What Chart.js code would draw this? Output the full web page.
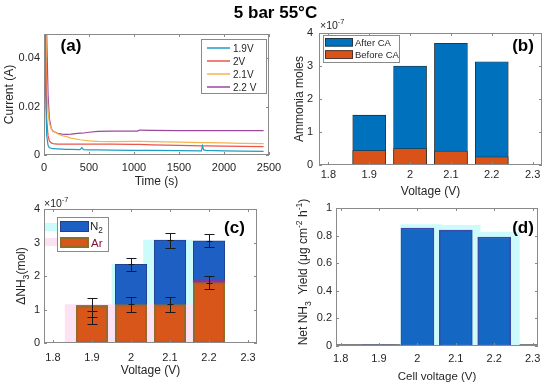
<!DOCTYPE html>
<html><head><meta charset="utf-8">
<script src="https://cdn.jsdelivr.net/npm/chart.js@4"></script>
<style>
html,body{margin:0;padding:0;background:#fff;width:550px;height:387px;overflow:hidden}
canvas{position:absolute;left:0;top:0}
</style></head><body>
<canvas id="ca" width="550" height="387"></canvas>
<canvas id="cb" width="550" height="387"></canvas>
<canvas id="cc" width="550" height="387"></canvas>
<canvas id="cd" width="550" height="387"></canvas>
<script>
// ---------------- DATA ----------------
const figTitle = '5 bar 55°C';
// (a) current vs time
const timeS = [5, 15, 30, 45, 60, 80, 100, 150, 200, 250, 300, 400, 420, 440, 500, 600, 750, 1000, 1040, 1060, 1200, 1500, 1750, 1760, 1775, 1800, 2000, 2200, 2440];
const cur19 = [0.08, 0.03, 0.008, 0.004, 0.003, 0.0028, 0.0026, 0.0025, 0.0024, 0.0023, 0.0023, 0.0022, 0.003, 0.0022, 0.0021, 0.0021, 0.002, 0.0019, 0.0019, 0.0019, 0.0019, 0.0018, 0.0017, 0.0038, 0.0021, 0.0019, 0.0017, 0.0016, 0.0015];
const cur20 = [0.09, 0.05, 0.015, 0.008, 0.0058, 0.005, 0.0047, 0.0045, 0.0045, 0.0045, 0.0045, 0.0045, 0.0045, 0.0045, 0.0045, 0.0045, 0.0045, 0.0044, 0.0044, 0.0044, 0.0042, 0.004, 0.0038, 0.0038, 0.0038, 0.0038, 0.0037, 0.0036, 0.0035];
const cur21 = [0.1, 0.07, 0.03, 0.018, 0.013, 0.011, 0.01, 0.0088, 0.008, 0.0076, 0.007, 0.0063, 0.0062, 0.0061, 0.0058, 0.0056, 0.0055, 0.0056, 0.0056, 0.0056, 0.0055, 0.0053, 0.0051, 0.0051, 0.0051, 0.0051, 0.005, 0.0048, 0.0047];
const cur22 = [0.1, 0.09, 0.05, 0.025, 0.015, 0.011, 0.0098, 0.009, 0.0086, 0.0085, 0.0086, 0.009, 0.009, 0.0091, 0.0094, 0.0098, 0.0099, 0.0099, 0.0099, 0.0103, 0.0102, 0.0101, 0.0101, 0.0101, 0.0101, 0.0101, 0.0101, 0.0101, 0.0101];
const seriesA = ['1.9V', '2V', '2.1V', '2.2 V'];
const aXTicks = [0, 500, 1000, 1500, 2000, 2500];
const aYTicks = [0, 0.02, 0.04];
// shared voltages
const voltages = [1.9, 2.0, 2.1, 2.2];
const vTicks = [1.8, 1.9, 2, 2.1, 2.2, 2.3];
// (b) ammonia moles (x1e-7)
const seriesB = ['After CA', 'Before CA'];
const afterCA = [1.51, 3.0, 3.69, 3.13];
const beforeCA = [0.44, 0.5, 0.42, 0.25];
const molTicks = [0, 1, 2, 3, 4];
// (c) delta NH3 (x1e-7)
const n2Vals = [1.12, 2.35, 3.07, 3.05];
const arVals = [1.12, 1.15, 1.15, 1.80];
const bandX = [2.2], bandLow = [1.80], bandHigh = [1.86];
const errX    = [1.9, 1.9, 2.0, 2.0, 2.1, 2.1, 2.2, 2.2];
const errMid  = [0.95, 0.77, 2.35, 1.15, 3.07, 1.15, 3.05, 1.80];
const errLow  = [0.77, 0.57, 2.15, 0.93, 2.85, 0.93, 2.87, 1.60];
const errHigh = [1.33, 0.95, 2.55, 1.36, 3.27, 1.36, 3.24, 2.01];
const ghostCX = [2.014, 2.095], ghostCY = [2.35, 3.07];
const ghostPX = [1.894, 2.014, 2.095], ghostPY = [1.15, 1.15, 1.15];
// (d) net NH3 yield
const yieldVals = [0.008, 0.855, 0.84, 0.79];
const ghostDX = [2.01, 2.11, 2.212], ghostDY = [0.88, 0.875, 0.825];
const yieldTicks = [0, 0.2, 0.4, 0.6, 0.8, 1];

// ---------------- STYLE / HELPERS ----------------
const FONT = "'Liberation Sans', Arial, Helvetica, sans-serif";
Chart.defaults.font.family = FONT;
Chart.defaults.font.size = 11;
Chart.defaults.color = '#262626';
Chart.defaults.animation = false;
const BOX = '#8a8a8a';
const fmt = v => String(Number(Number(v).toFixed(4)));
const pts = (xs, ys) => xs.map((x, i) => ({x: x, y: ys[i]}));

function drawRich(ctx, segs, x, y, size, opt) {
  opt = opt || {};
  const weight = opt.bold ? 'bold ' : '';
  const parts = segs.map(s => {
    const fs = s[1] ? size * 0.72 : size;
    ctx.font = weight + fs + 'px ' + FONT;
    return {t: s[0], m: s[1], fs: fs, w: ctx.measureText(s[0]).width};
  });
  const total = parts.reduce((a, p) => a + p.w, 0);
  let cx = opt.align === 'center' ? x - total / 2 : (opt.align === 'right' ? x - total : x);
  ctx.textAlign = 'left'; ctx.textBaseline = 'alphabetic';
  ctx.fillStyle = opt.color || '#262626';
  const base = y + size * 0.36;
  for (const p of parts) {
    ctx.font = weight + p.fs + 'px ' + FONT;
    const dy = p.m === 'sub' ? size * 0.32 : (p.m === 'sup' ? -size * 0.42 : 0);
    ctx.fillText(p.t, cx, base + dy);
    cx += p.w;
  }
}

const deco = {
  id: 'deco',
  beforeDatasetsDraw(chart, args, o) {
    if (!o.baseWidth) return;
    const ctx = chart.ctx, a = chart.chartArea;
    ctx.save();
    ctx.lineWidth = o.baseWidth; ctx.strokeStyle = '#808080';
    ctx.beginPath(); ctx.moveTo(a.left, a.bottom - 1); ctx.lineTo(a.right, a.bottom - 1); ctx.stroke();
    ctx.restore();
  },
  afterDatasetsDraw(chart, args, o) {
    if (!o.err) return;
    const ctx = chart.ctx, xs = chart.scales.x, ys = chart.scales.y, e = o.err;
    ctx.save(); ctx.strokeStyle = e.color; ctx.lineWidth = 1;
    for (let i = 0; i < e.x.length; i++) {
      const px = Math.round(xs.getPixelForValue(e.x[i])) + 0.5;
      const yl = Math.round(ys.getPixelForValue(e.low[i])) + 0.5;
      const yh = Math.round(ys.getPixelForValue(e.high[i])) + 0.5;
      const ym = Math.round(ys.getPixelForValue(e.mid[i])) + 0.5;
      ctx.beginPath();
      ctx.moveTo(px, yl); ctx.lineTo(px, yh);
      ctx.moveTo(px - e.cap, yl); ctx.lineTo(px + e.cap, yl);
      ctx.moveTo(px - e.cap, yh); ctx.lineTo(px + e.cap, yh);
      ctx.moveTo(px - e.cap * 0.6, ym); ctx.lineTo(px + e.cap * 0.6, ym);
      ctx.stroke();
    }
    ctx.restore();
  },
  afterDraw(chart, args, o) {
    const ctx = chart.ctx, a = chart.chartArea, xs = chart.scales.x, ys = chart.scales.y;
    ctx.save();
    ctx.strokeStyle = BOX; ctx.lineWidth = 1;
    ctx.strokeRect(a.left + 0.5, a.top + 0.5, a.right - a.left - 1, a.bottom - a.top - 1);
    ctx.beginPath();
    const tl = 3;
    xs.ticks.forEach(t => {
      const p = Math.round(xs.getPixelForValue(t.value)) + 0.5;
      ctx.moveTo(p, a.bottom); ctx.lineTo(p, a.bottom - tl);
      ctx.moveTo(p, a.top); ctx.lineTo(p, a.top + tl);
    });
    ys.ticks.forEach(t => {
      const p = Math.round(ys.getPixelForValue(t.value)) + 0.5;
      ctx.moveTo(a.left, p); ctx.lineTo(a.left + tl, p);
      ctx.moveTo(a.right, p); ctx.lineTo(a.right - tl, p);
    });
    ctx.stroke();
    if (o.legend) {
      const L = o.legend;
      (L.ghosts || []).forEach(g => { ctx.fillStyle = g.c; ctx.fillRect(g.r[0], g.r[1], g.r[2], g.r[3]); });
      ctx.fillStyle = '#fff'; ctx.strokeStyle = BOX; ctx.lineWidth = 1;
      const b = L.box;
      ctx.fillRect(b[0], b[1], b[2] - b[0], b[3] - b[1]);
      ctx.strokeRect(b[0] + 0.5, b[1] + 0.5, b[2] - b[0], b[3] - b[1]);
      L.items.forEach(it => {
        if (it.kind === 'line') {
          ctx.strokeStyle = it.c; ctx.lineWidth = 1.5;
          ctx.beginPath(); ctx.moveTo(it.x1, it.y); ctx.lineTo(it.x2, it.y); ctx.stroke();
        } else {
          ctx.fillStyle = it.fill; ctx.fillRect(it.r[0], it.r[1], it.r[2], it.r[3]);
          ctx.strokeStyle = it.stroke; ctx.lineWidth = it.sw;
          const h = it.sw / 2;
          ctx.strokeRect(it.r[0] + h, it.r[1] + h, it.r[2] - it.sw, it.r[3] - it.sw);
        }
        drawRich(ctx, it.segs, it.tx, it.y, it.size, {color: it.tc});
      });
    }
    (o.texts || []).forEach(t => {
      if (t.rot) {
        ctx.save(); ctx.translate(t.x, t.y); ctx.rotate(-Math.PI / 2);
        drawRich(ctx, t.segs, 0, 0, t.size, {align: 'center', bold: t.bold, color: t.color});
        ctx.restore();
      } else {
        drawRich(ctx, t.segs, t.x, t.y, t.size, {align: t.align || 'center', bold: t.bold, color: t.color});
      }
    });
    ctx.restore();
  }
};
Chart.register(deco);

// geometry helper: plot box + title positions -> layout padding and axis sizes
function geom(g) {
  const lhX = g.xTitleSize * 1.2;
  const xH = (g.xTitleY - g.B) + lhX / 2 + 2;
  const yW = g.yTitleX != null ? (g.L - g.yTitleX + 12 * 1.2 / 2 + 2) : 30;
  return {xH: xH, yW: yW, padding: {left: g.L - yW, top: g.T, right: 550 - g.R, bottom: 387 - g.B - xH}};
}
function axis(o) {
  return {
    type: 'linear', min: o.min, max: o.max, offset: false, stacked: o.stacked,
    grid: {display: false, drawTicks: false}, border: {display: false},
    afterBuildTicks: s => { s.ticks = o.ticks.map(v => ({value: v})); },
    afterFit: s => { if (o.horiz) s.height = o.size; else s.width = o.size; },
    ticks: {padding: o.pad, autoSkip: false, maxRotation: 0, minRotation: 0, font: {size: 11}, color: '#262626', callback: v => fmt(v)},
    title: o.title ? {display: true, text: o.title, color: '#262626', font: {size: o.tsize || 12}, padding: {top: 2, bottom: 2}} : {display: false}
  };
}
const basePlugins = {legend: {display: false}, tooltip: {enabled: false}};

// ---------------- (a) ----------------
const gA = geom({L: 44, T: 34, R: 269, B: 155, xTitleY: 182, xTitleSize: 12, yTitleX: 10});
const colA = ['#1f9dc3', '#e9554d', '#f7b44a', '#9a4a9e'];
const curs = [cur19, cur20, cur21, cur22];
new Chart(document.getElementById('ca'), {
  type: 'line',
  data: {datasets: curs.map((c, i) => ({label: seriesA[i], data: pts(timeS, c), borderColor: colA[i], borderWidth: 1.2, pointRadius: 0, fill: false, tension: 0}))},
  options: {
    responsive: false, layout: {padding: gA.padding},
    scales: {
      x: axis({min: 0, max: 2500, ticks: aXTicks, horiz: true, size: gA.xH, pad: 6, title: 'Time (s)'}),
      y: axis({min: 0, max: 0.05, ticks: aYTicks, size: gA.yW, pad: 4, title: 'Current (A)'})
    },
    plugins: Object.assign({}, basePlugins, {deco: {
      legend: {box: [201, 39, 266, 93], items: seriesA.map((s, i) => ({kind: 'line', c: colA[i], x1: 207, x2: 230, y: [48, 61, 74, 87][i], segs: [[s, '']], tx: 233, size: 10}))},
      texts: [
        {segs: [[figTitle, '']], x: 275.5, y: 12, size: 17, bold: true, color: '#000'},
        {segs: [['(a)', '']], x: 71, y: 45, size: 17, bold: true, color: '#000'}
      ]
    }})
  }
});

// ---------------- (b) ----------------
const gB = geom({L: 319, T: 33, R: 542, B: 165, xTitleY: 192, xTitleSize: 12, yTitleX: 300});
new Chart(document.getElementById('cb'), {
  type: 'bar',
  data: {datasets: [
    {label: seriesB[0], data: pts(voltages, afterCA), backgroundColor: '#0072BD', borderColor: '#2a2a2a', borderWidth: 0.8, borderSkipped: false, barThickness: 33, order: 2},
    {label: seriesB[1], data: pts(voltages, beforeCA), backgroundColor: '#D95319', borderColor: '#2a2a2a', borderWidth: 0.8, borderSkipped: false, barThickness: 33, order: 1}
  ]},
  options: {
    responsive: false, layout: {padding: gB.padding},
    scales: {
      x: axis({min: 1.777, max: 2.323, ticks: vTicks, horiz: true, size: gB.xH, pad: 3, title: 'Voltage (V)', stacked: true}),
      y: axis({min: 0, max: 4, ticks: molTicks, size: gB.yW, pad: 6, title: 'Ammonia moles', stacked: false})
    },
    plugins: Object.assign({}, basePlugins, {deco: {
      legend: {box: [323, 35, 399, 62], items: [
        {kind: 'rect', fill: '#0072BD', stroke: '#2a2a2a', sw: 0.8, r: [325, 38, 28, 8.5], segs: [[seriesB[0], '']], tx: 355, y: 42.2, size: 9.5},
        {kind: 'rect', fill: '#D95319', stroke: '#2a2a2a', sw: 0.8, r: [325, 50.3, 28, 8.5], segs: [[seriesB[1], '']], tx: 355, y: 54.5, size: 9.5}
      ]},
      texts: [
        {segs: [['×10', ''], ['-7', 'sup']], x: 320, y: 25, size: 10.5, align: 'left'},
        {segs: [['(b)', '']], x: 523, y: 45, size: 17, bold: true, color: '#000'}
      ]
    }})
  }
});

// ---------------- (c) ----------------
const gC = geom({L: 44, T: 209, R: 257, B: 343, xTitleY: 371, xTitleSize: 12, yTitleX: null});
gC.yW = 25; gC.padding.left = 44 - 25;
const blueC = '#1d5fc3', orangeC = '#d9561b', oliveC = '#8f6c2a';
new Chart(document.getElementById('cc'), {
  type: 'bar',
  data: {datasets: [
    {data: pts(ghostCX, ghostCY), backgroundColor: '#cbfbfb', borderWidth: 0, barThickness: 49, order: 5},
    {data: pts(ghostPX, ghostPY), backgroundColor: '#fde2f4', borderWidth: 0, barThickness: 49, order: 4},
    {label: 'N2', data: pts(voltages, n2Vals), backgroundColor: blueC, borderColor: '#23408f', borderWidth: 1, borderSkipped: false, barThickness: 31.5, order: 3},
    {data: bandX.map((x, i) => ({x: x, y: [bandLow[i], bandHigh[i]]})), backgroundColor: '#9d2a93', borderWidth: 0, barThickness: 31.5, order: 2},
    {label: 'Ar', data: pts(voltages, arVals), backgroundColor: orangeC, borderColor: oliveC, borderWidth: 2, borderSkipped: false, barThickness: 31.5, order: 1}
  ]},
  options: {
    responsive: false, layout: {padding: gC.padding},
    scales: {
      x: axis({min: 1.777, max: 2.323, ticks: vTicks, horiz: true, size: gC.xH, pad: 8, title: 'Voltage (V)', stacked: true}),
      y: axis({min: 0, max: 4, ticks: molTicks, size: gC.yW, pad: 4, stacked: false})
    },
    plugins: Object.assign({}, basePlugins, {deco: {
      err: {x: errX, mid: errMid, low: errLow, high: errHigh, cap: 5, color: '#1a1a1a'},
      legend: {box: [57, 217, 108, 251],
        ghosts: [{r: [45, 223, 15, 8], c: '#cbfbfb'}, {r: [45, 238, 15, 8], c: '#fde2f4'}],
        items: [
          {kind: 'rect', fill: blueC, stroke: '#23408f', sw: 1, r: [60, 221, 29, 11], segs: [['N', ''], ['2', 'sub']], tx: 90, y: 225.5, size: 11.5},
          {kind: 'rect', fill: orangeC, stroke: oliveC, sw: 2, r: [60, 237, 29, 11], segs: [['Ar', '']], tx: 91, y: 242.5, size: 11.5, tc: '#8a1030'}
        ]},
      texts: [
        {segs: [['×10', ''], ['-7', 'sup']], x: 44, y: 203, size: 10.5, align: 'left'},
        {segs: [['ΔNH', ''], ['3', 'sub'], ['(mol)', '']], x: 21, y: 276, size: 12, rot: true},
        {segs: [['(c)', '']], x: 234.5, y: 227, size: 17, bold: true, color: '#000'}
      ]
    }})
  }
});

// ---------------- (d) ----------------
const gD = geom({L: 336, T: 208, R: 538, B: 346, xTitleY: 377, xTitleSize: 11.5, yTitleX: null});
gD.yW = 30; gD.padding.left = 336 - 30;
new Chart(document.getElementById('cd'), {
  type: 'bar',
  data: {datasets: [
    {data: pts(ghostDX, ghostDY), backgroundColor: '#cdfbfb', borderWidth: 0, barThickness: 41, order: 2},
    {label: 'Yield', data: pts(voltages, yieldVals), backgroundColor: ['#262838', '#1467c2', '#1467c2', '#1467c2'], borderColor: '#3b4aa6', borderWidth: 1.5, borderSkipped: false, barThickness: 33, order: 1}
  ]},
  options: {
    responsive: false, layout: {padding: gD.padding},
    scales: {
      x: axis({min: 1.788, max: 2.314, ticks: vTicks, horiz: true, size: gD.xH, pad: 6, title: 'Cell voltage (V)', tsize: 11.5, stacked: true}),
      y: axis({min: 0, max: 1, ticks: yieldTicks, size: gD.yW, pad: 4, stacked: false})
    },
    plugins: Object.assign({}, basePlugins, {deco: {
      baseWidth: 2,
      texts: [
        {segs: [['Net NH', ''], ['3', 'sub'], ['  Yield (', ''], ['μ', ''], ['g cm', ''], ['-2', 'sup'], [' h', ''], ['-1', 'sup'], [')', '']], x: 303, y: 272, size: 12, rot: true},
        {segs: [['(d)', '']], x: 523, y: 227, size: 17, bold: true, color: '#000'}
      ]
    }})
  }
});
</script>
</body></html>
